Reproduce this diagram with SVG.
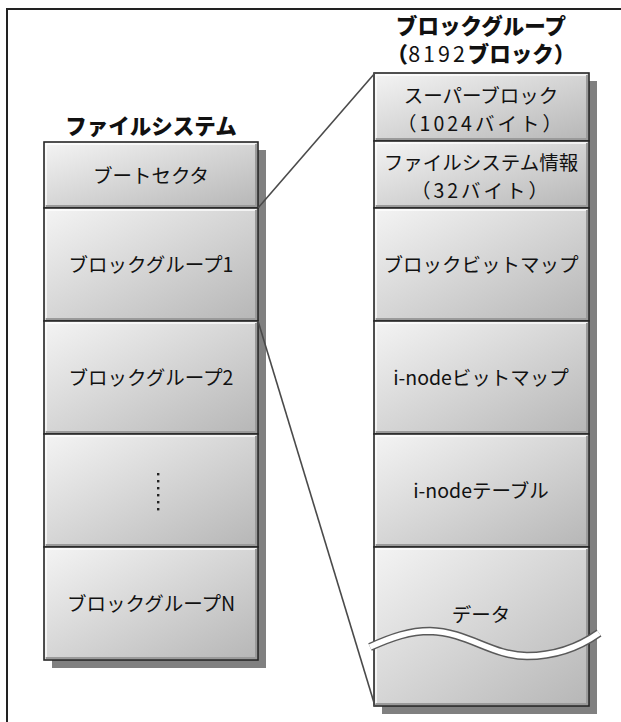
<svg xmlns="http://www.w3.org/2000/svg" width="621" height="722" viewBox="0 0 621 722">
<defs>
<linearGradient id="cellGrad" x1="0" y1="0" x2="1" y2="1">
<stop offset="0" stop-color="#f4f4f4"/>
<stop offset="1" stop-color="#b6b6b6"/>
</linearGradient>
<style>
.cell{fill:url(#cellGrad);stroke:#262626;stroke-width:1.6}
.hi{fill:none;stroke:#ffffff;stroke-width:1.5;opacity:0.9}
.lo{fill:none;stroke:#9a9a9a;stroke-width:2}
.shadow{fill:#808080}
.t{font-family:"Noto Sans CJK JP","Noto Sans",sans-serif;font-size:19.5px;font-weight:normal;fill:#111;text-anchor:middle}
.h{font-family:"Noto Sans CJK JP","Noto Sans",sans-serif;font-size:21.5px;font-weight:900;fill:#111;text-anchor:middle}
.conn{stroke:#4a4a4a;stroke-width:1.6;fill:none}
</style>
</defs>
<rect width="621" height="722" fill="#ffffff"/>
<path d="M7,722 V9 H621" fill="none" stroke="#222" stroke-width="2"/>

<g id="filesystem">
<text class="h" x="151" y="134">ファイルシステム</text>
<rect class="shadow" x="52" y="150" width="214" height="518"/>
<g id="boot-sector">
<rect class="cell" x="44" y="142" width="214" height="66"/>
<path class="hi" d="M46,205 V144 H256"/><path class="lo" d="M46,206 H256 V144"/>
<text class="t" x="151" y="183">ブートセクタ</text>
</g>
<g id="bg1">
<rect class="cell" x="44" y="208" width="214" height="113"/>
<path class="hi" d="M46,318 V210 H256"/><path class="lo" d="M46,319 H256 V210"/>
<text class="t" x="151" y="272">ブロックグループ1</text>
</g>
<g id="bg2">
<rect class="cell" x="44" y="321" width="214" height="113"/>
<path class="hi" d="M46,431 V323 H256"/><path class="lo" d="M46,432 H256 V323"/>
<text class="t" x="151" y="385">ブロックグループ2</text>
</g>
<g id="bg-dots">
<rect class="cell" x="44" y="434" width="214" height="113"/>
<path class="hi" d="M46,544 V436 H256"/><path class="lo" d="M46,545 H256 V436"/>
<g fill="#222">
<rect x="157" y="473" width="2.4" height="2.4"/>
<rect x="157" y="480" width="2.4" height="2.4"/>
<rect x="157" y="487" width="2.4" height="2.4"/>
<rect x="157" y="494" width="2.4" height="2.4"/>
<rect x="157" y="501" width="2.4" height="2.4"/>
<rect x="157" y="508" width="2.4" height="2.4"/>
</g>
</g>
<g id="bgN">
<rect class="cell" x="44" y="547" width="214" height="113"/>
<path class="hi" d="M46,657 V549 H256"/><path class="lo" d="M46,658 H256 V549"/>
<text class="t" x="151" y="611">ブロックグループN</text>
</g>
</g>

<g id="blockgroup">
<text class="h" x="481" y="34">ブロックグループ</text>
<text class="h" x="481" y="62" font-size="17px"><tspan>（</tspan><tspan font-weight="normal" letter-spacing="3">8192</tspan><tspan>ブロック）</tspan></text>
<rect class="shadow" x="382" y="81" width="215" height="633"/>
<g id="superblock">
<rect class="cell" x="374" y="73" width="215" height="68"/>
<path class="hi" d="M376,138 V75 H587"/><path class="lo" d="M376,139 H587 V75"/>
<text class="t" x="481" y="103" font-size="18.5px">スーパーブロック</text>
<text class="t" x="481" y="130.5" font-size="18.5px" letter-spacing="3">（1024バイト）</text>
</g>
<g id="fsinfo">
<rect class="cell" x="374" y="141" width="215" height="67"/>
<path class="hi" d="M376,205 V143 H587"/><path class="lo" d="M376,206 H587 V143"/>
<text class="t" x="481" y="170" font-size="18.5px">ファイルシステム情報</text>
<text class="t" x="481" y="197.5" font-size="18.5px" letter-spacing="3">（32バイト）</text>
</g>
<g id="block-bitmap">
<rect class="cell" x="374" y="208" width="215" height="113"/>
<path class="hi" d="M376,318 V210 H587"/><path class="lo" d="M376,319 H587 V210"/>
<text class="t" x="481" y="272">ブロックビットマップ</text>
</g>
<g id="inode-bitmap">
<rect class="cell" x="374" y="321" width="215" height="113"/>
<path class="hi" d="M376,431 V323 H587"/><path class="lo" d="M376,432 H587 V323"/>
<text class="t" x="481" y="385">i-nodeビットマップ</text>
</g>
<g id="inode-table">
<rect class="cell" x="374" y="434" width="215" height="113"/>
<path class="hi" d="M376,544 V436 H587"/><path class="lo" d="M376,545 H587 V436"/>
<text class="t" x="481" y="498">i-nodeテーブル</text>
</g>
<g id="data">
<rect class="cell" x="374" y="547" width="215" height="159"/>
<path class="hi" d="M376,703 V549 H587"/><path class="lo" d="M376,704 H587 V549"/>
<text class="t" x="481" y="622">データ</text>
<path d="M370,647 C392,637 410,631 430,631 C468,632 492,656 527,656 C560,656 582,645 599,633" fill="none" stroke="#5a5a5a" stroke-width="8.5"/>
<path d="M370,647 C392,637 410,631 430,631 C468,632 492,656 527,656 C560,656 582,645 599,633" fill="none" stroke="#ffffff" stroke-width="5.5"/>
</g>
</g>

<g id="connectors">
<line class="conn" x1="258" y1="208" x2="375" y2="73"/>
<line class="conn" x1="258" y1="321" x2="375" y2="706"/>
</g>
</svg>
